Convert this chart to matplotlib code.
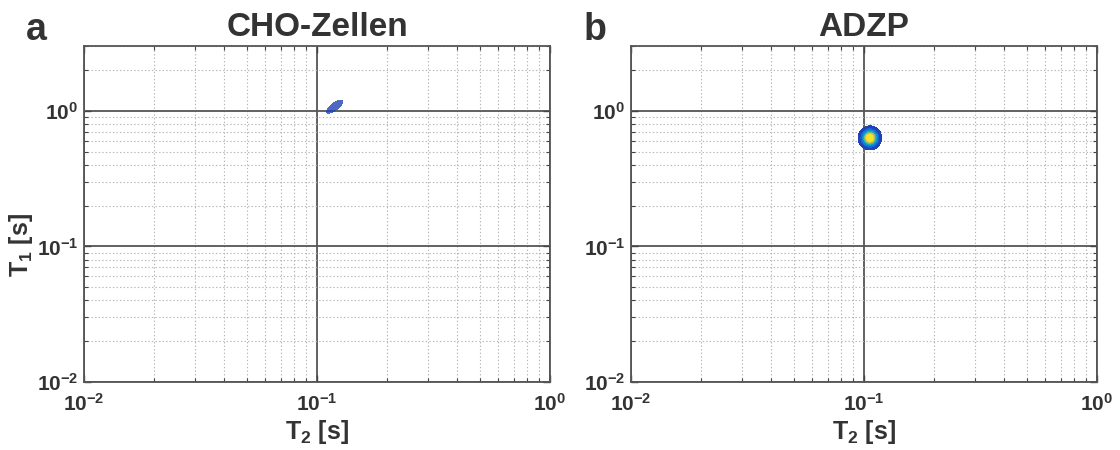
import numpy as np
import matplotlib.pyplot as plt
from matplotlib.colors import LinearSegmentedColormap
from matplotlib.ticker import FixedLocator, FixedFormatter, NullFormatter

plt.rcParams['font.family'] = ['Liberation Sans', 'DejaVu Sans']
plt.rcParams['font.weight'] = 'bold'
plt.rcParams['mathtext.fontset'] = 'custom'
plt.rcParams['mathtext.rm'] = 'Liberation Sans:bold'
plt.rcParams['mathtext.it'] = 'Liberation Sans:bold'
plt.rcParams['mathtext.bf'] = 'Liberation Sans:bold'

txt = '#333333'

# panels
titles = ['CHO-Zellen', 'ADZP']
letters = ['a', 'b']

# peak of each T1-T2 map (centre in s, width in decades, tilt as correlation)
t2_centre = [0.119, 0.106]
t1_centre = [1.07, 0.63]
t2_width = [0.021, 0.0175]
t1_width = [0.029, 0.031]
corr = [0.77, 0.0]
amplitude = [0.08, 1.2]

levels = np.linspace(0.02, 1.0, 12)

x_ticks = [0.01, 0.1, 1]
x_ticklabels = [r'$\mathbf{10^{-2}}$', r'$\mathbf{10^{-1}}$', r'$\mathbf{10^{0}}$']
y_ticks = [0.01, 0.1, 1]
y_ticklabels = [r'$\mathbf{10^{-2}}$', r'$\mathbf{10^{-1}}$', r'$\mathbf{10^{0}}$']

parula = LinearSegmentedColormap.from_list('parula', [
    '#352a87', '#0f5cdd', '#1481d6', '#06a4ca', '#2eb7a4',
    '#87bf77', '#d1bb59', '#fec832', '#f9fb0e'])
parula.set_over('#f5e52a')

fig = plt.figure(figsize=(11.2, 4.5), dpi=100)

lx = np.linspace(-2, 0, 500)
ly = np.linspace(-2, np.log10(3), 500)
LX, LY = np.meshgrid(lx, ly)

for i in range(2):
    left = [84, 631][i] / 1120
    ax = fig.add_axes([left, 68 / 450, 466 / 1120, 336 / 450])

    dx = (LX - np.log10(t2_centre[i])) / t2_width[i]
    dy = (LY - np.log10(t1_centre[i])) / t1_width[i]
    r = corr[i]
    Z = amplitude[i] * np.exp(-0.5 / (1 - r**2) * (dx**2 - 2 * r * dx * dy + dy**2))
    ax.contourf(10**LX, 10**LY, Z, levels=levels, cmap=parula, vmin=0, vmax=1,
                extend='max', alpha=[0.8, 1][i], zorder=3)

    ax.set_xscale('log')
    ax.set_yscale('log')
    ax.set_xlim(0.01, 1)
    ax.set_ylim(0.01, 3)

    ax.xaxis.set_major_locator(FixedLocator(x_ticks))
    ax.xaxis.set_major_formatter(FixedFormatter(x_ticklabels))
    ax.yaxis.set_major_locator(FixedLocator(y_ticks))
    ax.yaxis.set_major_formatter(FixedFormatter(y_ticklabels))
    ax.xaxis.set_minor_formatter(NullFormatter())
    ax.yaxis.set_minor_formatter(NullFormatter())

    ax.grid(True, which='minor', color='#b5b5b5', linestyle=(0, (1.2, 2)), linewidth=0.8)
    ax.grid(True, which='major', color='#555555', linestyle='-', linewidth=1.3)
    ax.set_axisbelow(True)

    ax.tick_params(which='both', direction='in', top=True, right=True, color='#444444')
    ax.tick_params(which='major', length=5, width=1)
    ax.tick_params(which='minor', length=3, width=0.8)
    ax.tick_params(axis='x', which='major', pad=8, labelsize=15, labelcolor=txt)
    ax.tick_params(axis='y', which='major', pad=4, labelsize=15, labelcolor=txt)
    for s in ax.spines.values():
        s.set_color('#555555')
        s.set_linewidth(1.3)

    ax.set_title(titles[i], fontsize=24, fontweight='bold', color=txt, pad=7)
    ax.set_xlabel(r'T$_\mathbf{2}$ [s]', fontsize=18, fontweight='bold', color=txt, labelpad=2)
    if i == 0:
        ax.set_ylabel(r'T$_\mathbf{1}$ [s]', fontsize=18, fontweight='bold', color=txt)
        ax.yaxis.set_label_coords(-0.105, 0.408)

    fig.text([26, 584][i] / 1120, 1 - 40 / 450, letters[i], fontsize=27,
             fontweight='bold', color=txt, ha='left', va='baseline')

fig.savefig('out.png', dpi=100)
